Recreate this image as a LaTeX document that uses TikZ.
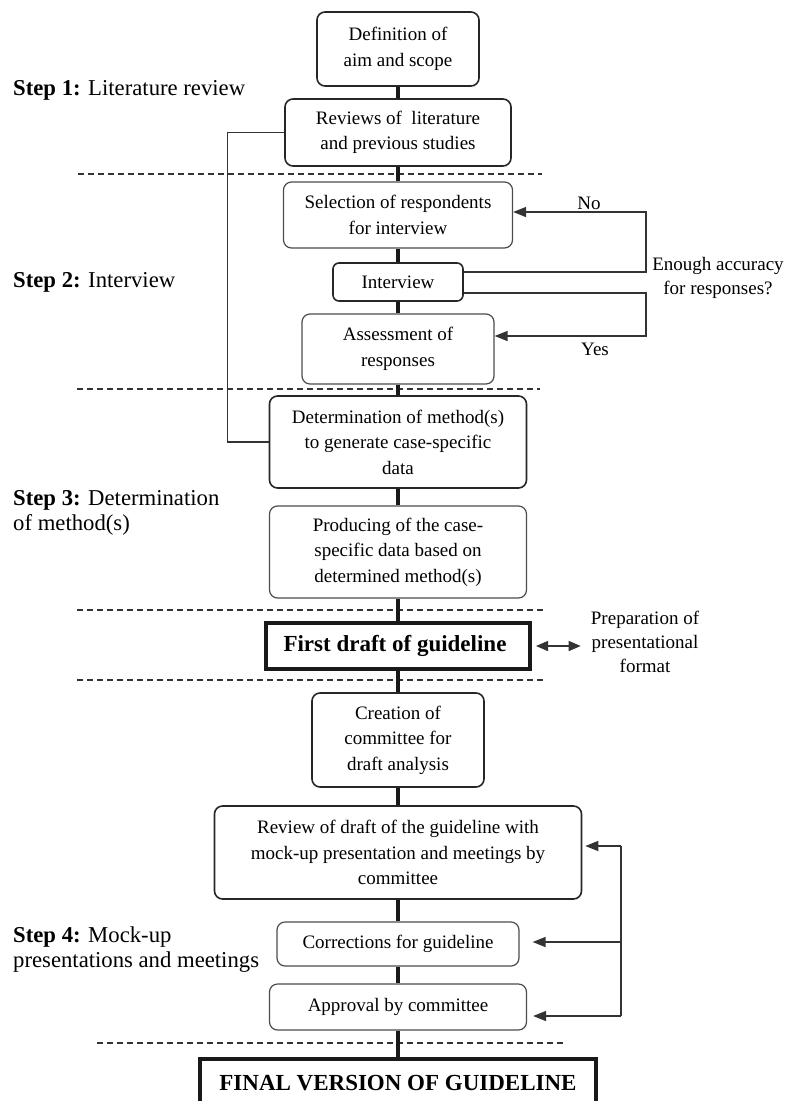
\documentclass[tikz,border=0pt]{standalone}
\usepackage{fontspec}
\setmainfont{Liberation Serif}
\usetikzlibrary{arrows.meta}
\begin{document}
\begin{tikzpicture}[x=1pt,y=-1pt,
  box/.style={draw=black!85, line width=1.6pt, rounded corners=8pt, align=center, inner sep=0pt, font=\fontsize{19}{25.5}\selectfont},
  lbox/.style={box, draw=black!70, line width=1.2pt},
  bbox/.style={draw=black!90, line width=4pt, align=center, inner sep=0pt, font=\bfseries\fontsize{23}{27}\selectfont},
  main/.style={line width=3.8pt, draw=black!90},
  loopline/.style={line width=1.4pt, draw=black!80},
  tip/.style={Triangle[length=13pt,width=10pt]},
  arr/.style={loopline, -{Triangle[length=13pt,width=10pt]}},
  sep/.style={line width=1.1pt, dash pattern=on 6pt off 4pt, draw=black!80},
  lbl/.style={font=\fontsize{19}{24}\selectfont, align=center, inner sep=0pt},
  steplbl/.style={font=\fontsize{22.7}{25}\selectfont, align=left, inner sep=0pt, anchor=west},
]
\useasboundingbox (0,0) rectangle (786,1101);
\clip (0,0) rectangle (786,1101);

% separators
\draw[sep] (78,174) -- (542,174);
\draw[sep] (77,389) -- (540,389);
\draw[sep] (77,610) -- (543,610);
\draw[sep] (77,680) -- (543,680);
\draw[sep] (97,1043) -- (563,1043);

% step labels
\node[steplbl] (s1) at (13,90) {\textbf{Step 1:} Literature review};
\node[steplbl] (s2) at (13,282) {\textbf{Step 2:} Interview};
\node[steplbl] (s3) at (13,512.5) {\textbf{Step 3:} Determination\\of method(s)};
\node[steplbl] (s4) at (13,949.5) {\textbf{Step 4:} Mock-up\\presentations and meetings};

% boxes
\node[box, minimum width=162pt, minimum height=74pt] (def) at (398,49) {Definition of\\aim and scope};
\node[box, minimum width=226pt, minimum height=67pt] (rev) at (398,132.5) {Reviews of\ \ literature\\and previous studies};
\node[lbox, minimum width=229pt, minimum height=66pt] (sel) at (398,215) {Selection of respondents\\for interview};
\node[box, rounded corners=6pt, minimum width=130pt, minimum height=38pt] (int) at (398,282) {Interview};
\node[lbox, minimum width=192pt, minimum height=70pt] (ass) at (398,349) {Assessment of\\responses};
\node[box, minimum width=257pt, minimum height=92pt] (det) at (398,442) {Determination of method(s)\\to generate case-specific\\data};
\node[lbox, minimum width=257pt, minimum height=92pt] (prod) at (398,552) {Producing of the case-\\specific data based on\\determined method(s)};
\node[bbox, minimum width=264pt, minimum height=46pt] (first) at (398,646) {First draft of guideline\hspace{6pt}};
\node[box, minimum width=172pt, minimum height=94pt] (cre) at (398,740) {Creation of\\committee for\\draft analysis};
\node[box, minimum width=367pt, minimum height=93pt] (revd) at (398,852.5) {Review of draft of the guideline with\\mock-up presentation and meetings by\\committee};
\node[lbox, minimum width=242pt, minimum height=44pt] (cor) at (398,944) {Corrections for guideline};
\node[lbox, minimum width=257pt, minimum height=46pt] (app) at (398,1007) {Approval by committee};
\node[bbox, minimum width=396pt, minimum height=48pt] (final) at (398,1083) {FINAL VERSION OF GUIDELINE};

% main line
\draw[main] (def) -- (rev);
\draw[main] (rev) -- (sel);
\draw[main] (sel) -- (int);
\draw[main] (int) -- (ass);
\draw[main] (ass) -- (det);
\draw[main] (det) -- (prod);
\draw[main] (prod) -- (first);
\draw[main] (first) -- (cre);
\draw[main] (cre) -- (revd);
\draw[main] (revd) -- (cor);
\draw[main] (cor) -- (app);
\draw[main] (app) -- (final);

% labels
\node[lbl] (no) at (589,203) {No};
\node[lbl] (yes) at (595,349) {Yes};
\node[lbl] (q) at (718,278) {Enough accuracy\\for responses?};
\node[lbl] (prep) at (645,642) {Preparation of\\presentational\\format};

% interview loops
\coordinate (nR) at (646,212);
\coordinate (yR) at (646,336);
\draw[arr] ([yshift=10pt]int.east) -| (nR) -- (sel.east |- nR);
\draw[arr] ([yshift=-11pt]int.east) -| (yR) -- (ass.east |- yR);

% left loop
\draw[loopline] (rev.west) -- ++(-57,0) |- (det.west);

% preparation arrow
\draw[loopline, {Triangle[length=12pt,width=10pt]}-{Triangle[length=12pt,width=10pt]}] ([xshift=4pt]first.east) -- ([xshift=-10pt]prep.west |- first.east);

% right loop
\coordinate (rt) at (621,846);
\coordinate (rm) at (621,942);
\coordinate (rb) at (621,1016);
\draw[loopline] (rt) -- (rb);
\draw[arr] (rt) -- ([xshift=3pt]revd.east |- rt);
\draw[arr] (rm) -- ([xshift=13pt]cor.east |- rm);
\draw[arr] (rb) -- ([xshift=6pt]app.east |- rb);
\end{tikzpicture}
\end{document}
